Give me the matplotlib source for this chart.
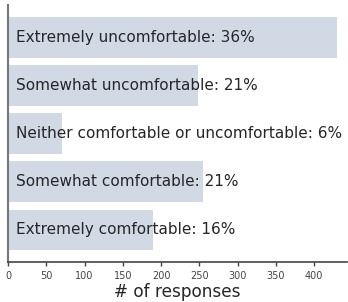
import numpy as np
import matplotlib
matplotlib.use("Agg")
import matplotlib.pyplot as plt

# antworten, oben nach unten
labels = ["Extremely uncomfortable", "Somewhat uncomfortable",
          "Neither comfortable or uncomfortable", "Somewhat comfortable",
          "Extremely comfortable"]
counts = [430, 248, 70, 255, 190]

total = sum(counts)
fig = plt.figure(figsize=(3.48, 3.02), dpi=100)
ax = fig.add_axes([0.023, 0.132, 0.974, 0.851])

y = np.arange(len(labels))
ax.barh(y, counts, height=0.85, color="#d1d9e4")
ax.invert_yaxis()

for i, (lab, c) in enumerate(zip(labels, counts)):
    ax.text(10.5, i, f"{lab}: {round(100 * c / total)}%", va="center",
            ha="left", fontsize=11, color="#262626")

ax.set_xlim(0, 443)
ax.set_xticks(range(0, 401, 50))
ax.set_yticks([])
ax.tick_params(axis="x", labelsize=7, colors="#444444", length=3, width=1)
ax.set_xlabel("# of responses", fontsize=12.2, color="#262626", labelpad=1)

for s in ["top", "right"]:
    ax.spines[s].set_visible(False)
ax.spines["left"].set_color("#777777")
ax.spines["left"].set_linewidth(1.5)
ax.spines["bottom"].set_color("#444444")
ax.spines["bottom"].set_linewidth(1.2)

fig.savefig("out.png", dpi=100)
